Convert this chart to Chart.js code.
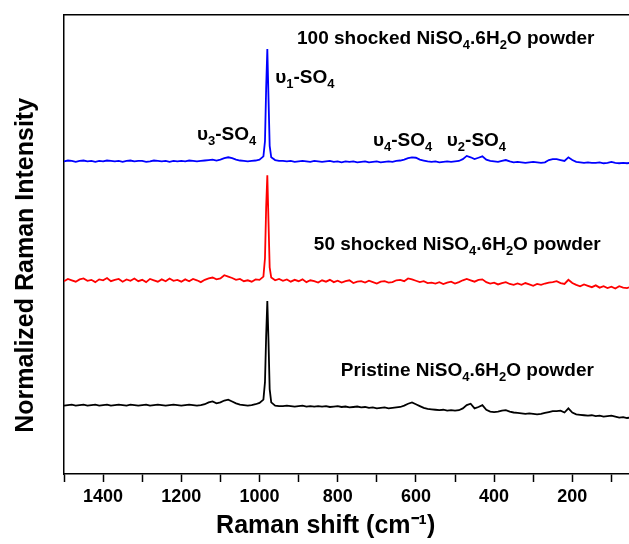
<!DOCTYPE html>
<html>
<head>
<meta charset="utf-8">
<title>Raman spectra NiSO4.6H2O</title>
<script src="https://cdn.jsdelivr.net/npm/chart.js@4.4.1/dist/chart.umd.min.js"></script>
<style>
  html, body { margin: 0; padding: 0; background: #fff; }
  canvas { display: block; }
</style>
</head>
<body>
<canvas id="chartRaman" width="629" height="544"></canvas>
<script>
// ============ DATA ============
// Raman shift, cm-1 (x axis runs high -> low)
const SHIFT = [
  1500, 1490, 1480, 1470, 1460, 1450, 1440, 1430, 1420, 1410,
  1400, 1390, 1380, 1370, 1360, 1350, 1340, 1330, 1320, 1310,
  1300, 1290, 1280, 1270, 1260, 1250, 1240, 1230, 1220, 1210,
  1200, 1190, 1180, 1170, 1160, 1150, 1140, 1130, 1120, 1110,
  1100, 1090, 1080, 1070, 1060, 1050, 1040, 1030, 1020, 1010,
  1000, 990, 986, 983, 980, 977, 974, 970, 960, 950,
  940, 930, 920, 910, 900, 890, 880, 870, 860, 850,
  840, 830, 820, 810, 800, 790, 780, 770, 760, 750,
  740, 730, 720, 710, 700, 690, 680, 670, 660, 650,
  640, 630, 620, 610, 600, 590, 580, 570, 560, 550,
  540, 530, 520, 510, 500, 490, 480, 470, 460, 450,
  440, 430, 420, 410, 400, 390, 380, 370, 360, 350,
  340, 330, 320, 310, 300, 290, 280, 270, 260, 250,
  240, 230, 220, 210, 200, 190, 180, 170, 160, 150,
  140, 130, 120, 110, 100, 90, 80, 70, 60, 50
];

// normalized + offset intensity, 100 shocked (blue)
const SHOCK100 = [
  68.1, 68.3, 68.2, 68.0, 68.2, 68.3, 68.1, 68.2, 68.0, 68.2,
  68.1, 68.3, 68.2, 68.1, 68.2, 68.0, 68.2, 68.3, 68.1, 68.2,
  68.2, 68.0, 68.1, 68.3, 68.2, 68.1, 68.2, 68.0, 68.2, 68.1,
  68.2, 68.1, 68.3, 68.2, 68.1, 68.2, 68.3, 68.4, 68.5, 68.3,
  68.5, 68.8, 69.0, 68.8, 68.5, 68.3, 68.2, 68.1, 68.2, 68.3,
  68.5, 69.2, 72.5, 84.0, 92.6, 82.0, 71.5, 69.0, 68.4, 68.2,
  68.2, 68.1, 68.2, 68.0, 68.1, 68.2, 68.1, 68.0, 68.2, 68.1,
  68.0, 68.1, 68.2, 68.0, 68.1, 67.9, 68.1, 68.0, 68.1, 67.9,
  68.0, 68.1, 67.9, 68.0, 68.1, 67.9, 68.0, 68.1, 68.0, 68.2,
  68.3, 68.5, 68.8, 69.0, 68.9, 68.5, 68.3, 68.1, 68.0, 68.1,
  67.9, 68.0, 68.1, 68.0, 68.1, 68.2, 68.6, 69.3, 69.0, 68.6,
  68.9, 69.2, 68.5, 68.2, 68.1, 68.0, 68.2, 68.4, 68.1, 67.9,
  68.0, 67.9, 67.8, 67.9, 68.0, 67.9, 67.8, 67.9, 68.4, 68.6,
  68.6, 68.4, 68.2, 69.0, 68.4, 68.0, 67.9, 67.8, 67.9, 67.8,
  67.8, 67.9, 67.7, 67.8, 68.0, 67.8, 67.7, 67.8, 67.7, 67.8
];

// 50 shocked (red)
const SHOCK50 = [
  42.0, 42.5, 42.2, 41.9, 42.4, 42.6, 42.1, 42.3, 41.8, 42.4,
  42.2, 42.7, 42.0, 42.3, 42.5, 41.9, 42.4, 42.1, 42.6, 42.0,
  42.3, 41.8, 42.5, 42.2, 41.9, 42.4, 42.0, 42.6, 42.1, 42.3,
  41.9, 42.4, 42.0, 42.5, 42.2, 41.8, 42.3, 42.6, 42.8, 42.4,
  42.6, 43.3, 43.0, 42.7, 42.3, 42.5, 42.0, 42.2, 41.9, 42.4,
  42.3, 43.0, 47.0, 58.0, 65.1, 55.0, 45.0, 42.8, 42.2, 42.5,
  42.1, 42.4, 41.9, 42.3, 42.0, 42.4, 41.8, 42.2, 42.0, 41.7,
  42.2, 41.9, 42.3, 41.8, 42.1, 41.7, 42.0, 42.2, 41.6, 41.9,
  42.0, 41.7, 42.1, 41.8, 41.5, 41.9, 42.0, 41.7, 41.8, 42.2,
  42.3, 42.0, 42.6, 42.4, 42.1, 41.8, 42.0, 41.6, 41.7, 41.5,
  41.8, 41.4, 41.7, 41.9, 41.5, 41.8, 42.2, 42.5, 42.2, 41.9,
  42.3, 42.4, 41.8, 41.5, 41.7, 41.3, 41.6, 41.8, 41.4, 41.2,
  41.5, 41.2, 41.6, 41.3, 41.0, 41.4, 41.2, 41.5, 41.7, 41.8,
  42.0, 41.6, 41.4, 42.3, 41.6, 41.2, 40.9, 41.3, 41.0, 40.7,
  41.1, 40.6, 40.9, 40.5, 40.8, 40.4, 40.9, 40.6, 40.5, 40.8
];

// pristine (black)
const PRISTINE = [
  14.9, 15.0, 15.1, 14.9, 15.0, 15.1, 14.9, 15.0, 15.1, 14.9,
  15.0, 15.1, 14.9, 15.0, 15.1, 15.0, 14.9, 15.1, 15.0, 14.9,
  15.0, 15.1, 14.9, 15.0, 15.1, 15.0, 14.9, 15.0, 15.1, 15.0,
  14.9, 15.0, 15.1, 15.0, 14.9, 15.0, 15.2, 15.6, 15.8, 15.4,
  15.6, 16.0, 16.2, 15.8, 15.4, 15.1, 15.0, 14.9, 15.0, 15.2,
  15.5, 16.2, 20.0, 30.0, 37.7, 29.0, 18.5, 15.6, 14.9, 14.8,
  14.8, 14.9, 14.8, 14.7, 14.8, 14.9, 14.7, 14.8, 14.7, 14.8,
  14.7, 14.8, 14.6, 14.7, 14.8, 14.6, 14.7, 14.5, 14.6, 14.7,
  14.5, 14.6, 14.4, 14.5, 14.3, 14.4, 14.5, 14.3, 14.4, 14.5,
  14.6, 14.9, 15.3, 15.6, 15.2, 14.8, 14.4, 14.2, 14.1, 14.0,
  13.9, 14.0, 13.8, 13.9, 13.8, 13.9, 14.3, 15.0, 15.3, 14.3,
  14.6, 15.0, 14.0, 13.6, 13.5, 13.6, 13.8, 13.9, 13.6, 13.4,
  13.3, 13.2, 13.1, 13.2, 13.1, 13.0, 13.1, 13.3, 13.5, 13.7,
  13.7, 13.8, 13.4, 14.3, 13.4, 13.0, 12.9, 12.8, 12.7, 12.8,
  12.6, 12.7, 12.5, 12.6, 12.7, 12.5, 12.3, 12.4, 12.2, 12.3
];

// axis range and ticks
const X_MIN = 55;
const X_MAX = 1500;
const X_STEP = 100;
const X_LABEL_EVERY = 200;

// annotations: text ("_" marks a subscript character) and anchor in data units
const NOTE_TEXT = [
  '100 shocked NiSO_4.6H_2O powder',
  'υ_1-SO_4',
  'υ_3-SO_4',
  'υ_4-SO_4',
  'υ_2-SO_4',
  '50 shocked NiSO_4.6H_2O powder',
  'Pristine NiSO_4.6H_2O powder'
];
const NOTE_X = [904, 960, 1160, 710, 521, 861, 792];
const NOTE_Y = [93.7, 85.2, 72.8, 71.5, 71.5, 48.8, 21.4];

(function () {
  'use strict';

  const BLUE = '#0000ff';
  const RED = '#ff0000';
  const INK = '#000000';
  const FAMILY = "'Liberation Sans', Arial, sans-serif";

  Chart.defaults.font.family = FAMILY;
  Chart.defaults.color = INK;

  function pairs(values) {
    return values.map(function (v, i) { return { x: SHIFT[i], y: v }; });
  }

  // ============ text labels with subscripts ============
  const notesPlugin = {
    id: 'notes',
    afterDatasetsDraw: function (chart) {
      const ctx = chart.ctx;
      const xs = chart.scales.x;
      const ys = chart.scales.y;
      ctx.save();
      ctx.fillStyle = INK;
      ctx.textBaseline = 'alphabetic';
      ctx.textAlign = 'left';
      NOTE_TEXT.forEach(function (txt, i) {
        let px = xs.getPixelForValue(NOTE_X[i]);
        const py = ys.getPixelForValue(NOTE_Y[i]);
        txt.split(/(_.)/).forEach(function (part) {
          if (!part) return;
          const sub = part[0] === '_';
          const s = sub ? part.slice(1) : part;
          ctx.font = sub ? 'bold 13px ' + FAMILY : 'bold 19px ' + FAMILY;
          ctx.fillText(s, px, py + (sub ? 5 : 0));
          px += ctx.measureText(s).width;
        });
      });
      ctx.restore();
    }
  };

  const line = function (values, color) {
    return {
      data: pairs(values),
      borderColor: color,
      borderWidth: 1.8,
      pointRadius: 0,
      tension: 0,
      fill: false
    };
  };

  new Chart(document.getElementById('chartRaman'), {
    type: 'line',
    data: {
      datasets: [
        Object.assign(line(SHOCK100, BLUE), { label: '100 shocked' }),
        Object.assign(line(SHOCK50, RED), { label: '50 shocked' }),
        Object.assign(line(PRISTINE, INK), { label: 'Pristine' })
      ]
    },
    options: {
      responsive: false,
      animation: false,
      layout: { padding: { top: 15, right: 0, bottom: 0, left: 0 } },
      plugins: {
        legend: { display: false },
        tooltip: { enabled: false }
      },
      scales: {
        x: {
          type: 'linear',
          position: 'bottom',
          reverse: true,
          min: X_MIN,
          max: X_MAX,
          afterFit: function (s) { s.height = 70; },
          border: { display: true, color: INK, width: 1.5 },
          grid: { drawOnChartArea: false, drawTicks: true, tickLength: 8, tickColor: INK, tickWidth: 1.5 },
          ticks: {
            stepSize: X_STEP,
            includeBounds: false,
            autoSkip: false,
            maxRotation: 0,
            padding: 4,
            font: { size: 18, weight: 'bold' },
            callback: function (v) { return v % X_LABEL_EVERY === 0 ? v : ''; }
          },
          title: {
            display: true,
            text: 'Raman shift (cm⁻¹)      ',
            font: { size: 25, weight: 'bold' },
            padding: { top: 0, bottom: 3 }
          }
        },
        xTop: {
          type: 'linear',
          position: 'top',
          reverse: true,
          min: X_MIN,
          max: X_MAX,
          afterFit: function (s) { s.height = 0; },
          border: { display: true, color: INK, width: 1.5 },
          grid: { drawOnChartArea: false, drawTicks: false },
          ticks: { display: false }
        },
        y: {
          type: 'linear',
          min: 0,
          max: 100,
          afterFit: function (s) { s.width = 64; },
          border: { display: true, color: INK, width: 1.5 },
          grid: { drawOnChartArea: false, drawTicks: false },
          ticks: { display: false },
          title: {
            display: true,
            text: 'Normalized Raman Intensity      ',
            font: { size: 25, weight: 'bold' },
            padding: { top: 11, bottom: 0 }
          }
        }
      }
    },
    plugins: [notesPlugin]
  });
})();
</script>
</body>
</html>
